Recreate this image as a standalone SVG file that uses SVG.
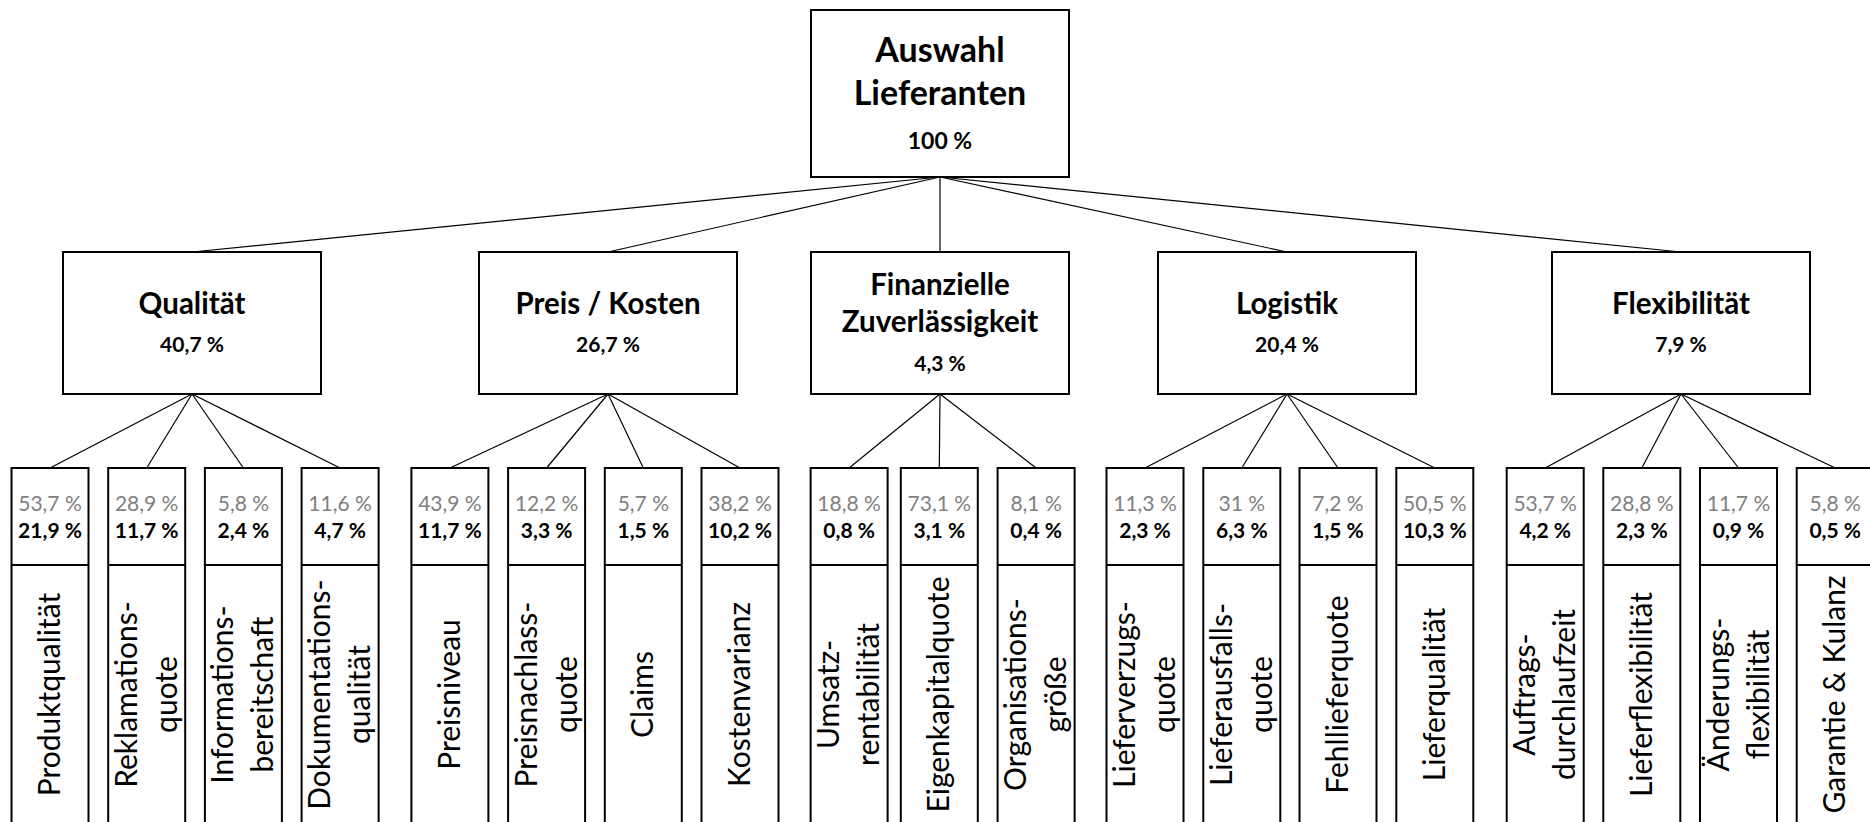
<svg xmlns="http://www.w3.org/2000/svg" width="1870" height="822" viewBox="0 0 1870 822">
  <style>
    .box { fill: #ffffff; stroke: #000000; stroke-width: 2; }
    .sep { stroke: #000000; stroke-width: 2; }
    .conn line { stroke: #000000; stroke-width: 1.2; }
    text { font-family: Lato, "Liberation Sans", sans-serif; text-anchor: middle; fill: #000000; }
    .h0 { font-size: 34px; font-weight: 700; }
    .h1 { font-size: 29.5px; font-weight: 700; }
    .pc { font-size: 21px; font-weight: 700; }
    .p0 { font-size: 23px; font-weight: 700; }
    .pg { font-size: 21px; font-weight: 400; fill: #808080; }
    .lb { font-size: 30px; font-weight: 400; }
  </style>

  <!-- connectors -->
  <g id="connectors" class="conn">
    <line x1="940" y1="177" x2="192" y2="252"/>
    <line x1="940" y1="177" x2="608" y2="252"/>
    <line x1="940" y1="177" x2="940" y2="252"/>
    <line x1="940" y1="177" x2="1287" y2="252"/>
    <line x1="940" y1="177" x2="1681" y2="252"/>

    <line x1="192" y1="394" x2="50" y2="468"/>
    <line x1="192" y1="394" x2="146.7" y2="468"/>
    <line x1="192" y1="394" x2="243.4" y2="468"/>
    <line x1="192" y1="394" x2="340.1" y2="468"/>

    <line x1="608" y1="394" x2="449.9" y2="468"/>
    <line x1="608" y1="394" x2="546.6" y2="468"/>
    <line x1="608" y1="394" x2="643.3" y2="468"/>
    <line x1="608" y1="394" x2="740" y2="468"/>

    <line x1="940" y1="394" x2="849.1" y2="468"/>
    <line x1="940" y1="394" x2="939.3" y2="468"/>
    <line x1="940" y1="394" x2="1036.1" y2="468"/>

    <line x1="1287" y1="394" x2="1145" y2="468"/>
    <line x1="1287" y1="394" x2="1241.8" y2="468"/>
    <line x1="1287" y1="394" x2="1338" y2="468"/>
    <line x1="1287" y1="394" x2="1434.8" y2="468"/>

    <line x1="1681" y1="394" x2="1545.2" y2="468"/>
    <line x1="1681" y1="394" x2="1641.8" y2="468"/>
    <line x1="1681" y1="394" x2="1738.5" y2="468"/>
    <line x1="1681" y1="394" x2="1835.2" y2="468"/>
  </g>

  <!-- root -->
  <g id="auswahl-lieferanten">
    <rect class="box" x="811" y="10" width="258" height="167"/>
    <text class="h0" x="940" y="62">Auswahl</text>
    <text class="h0" x="940" y="105">Lieferanten</text>
    <text class="p0" x="940" y="149">100 %</text>
  </g>

  <!-- criteria -->
  <g id="qualitaet">
    <rect class="box" x="63" y="252" width="258" height="142"/>
    <text class="h1" x="192" y="314">Qualität</text>
    <text class="pc" x="192" y="352">40,7 %</text>
  </g>
  <g id="preis-kosten">
    <rect class="box" x="479" y="252" width="258" height="142"/>
    <text class="h1" x="608" y="314">Preis / Kosten</text>
    <text class="pc" x="608" y="352">26,7 %</text>
  </g>
  <g id="finanzielle-zuverlaessigkeit">
    <rect class="box" x="811" y="252" width="258" height="142"/>
    <text class="h1" x="940" y="295">Finanzielle</text>
    <text class="h1" x="940" y="332">Zuverlässigkeit</text>
    <text class="pc" x="940" y="371">4,3 %</text>
  </g>
  <g id="logistik">
    <rect class="box" x="1158" y="252" width="258" height="142"/>
    <text class="h1" x="1287" y="314">Logistik</text>
    <text class="pc" x="1287" y="352">20,4 %</text>
  </g>
  <g id="flexibilitaet">
    <rect class="box" x="1552" y="252" width="258" height="142"/>
    <text class="h1" x="1681" y="314">Flexibilität</text>
    <text class="pc" x="1681" y="352">7,9 %</text>
  </g>

  <!-- sub-criteria: Qualität -->
  <g id="produktqualitaet">
    <rect class="box" x="11.5" y="468" width="77" height="370"/>
    <line class="sep" x1="11.5" y1="565" x2="88.5" y2="565"/>
    <text class="pg" x="50" y="511">53,7 %</text>
    <text class="pc" x="50" y="538">21,9 %</text>
    <text class="lb" transform="translate(50 694.5) rotate(-90)" y="10">Produktqualität</text>
  </g>
  <g id="reklamationsquote">
    <rect class="box" x="108.2" y="468" width="77" height="370"/>
    <line class="sep" x1="108.2" y1="565" x2="185.2" y2="565"/>
    <text class="pg" x="146.7" y="511">28,9 %</text>
    <text class="pc" x="146.7" y="538">11,7 %</text>
    <text class="lb" transform="translate(146.7 694.5) rotate(-90)"><tspan x="0" y="-10">Reklamations-</tspan><tspan x="0" y="30">quote</tspan></text>
  </g>
  <g id="informationsbereitschaft">
    <rect class="box" x="204.9" y="468" width="77" height="370"/>
    <line class="sep" x1="204.9" y1="565" x2="281.9" y2="565"/>
    <text class="pg" x="243.4" y="511">5,8 %</text>
    <text class="pc" x="243.4" y="538">2,4 %</text>
    <text class="lb" transform="translate(243.4 694.5) rotate(-90)"><tspan x="0" y="-10">Informations-</tspan><tspan x="0" y="30">bereitschaft</tspan></text>
  </g>
  <g id="dokumentationsqualitaet">
    <rect class="box" x="301.6" y="468" width="77" height="370"/>
    <line class="sep" x1="301.6" y1="565" x2="378.6" y2="565"/>
    <text class="pg" x="340.1" y="511">11,6 %</text>
    <text class="pc" x="340.1" y="538">4,7 %</text>
    <text class="lb" transform="translate(340.1 694.5) rotate(-90)"><tspan x="0" y="-10">Dokumentations-</tspan><tspan x="0" y="30">qualität</tspan></text>
  </g>

  <!-- sub-criteria: Preis / Kosten -->
  <g id="preisniveau">
    <rect class="box" x="411.4" y="468" width="77" height="370"/>
    <line class="sep" x1="411.4" y1="565" x2="488.4" y2="565"/>
    <text class="pg" x="449.9" y="511">43,9 %</text>
    <text class="pc" x="449.9" y="538">11,7 %</text>
    <text class="lb" transform="translate(449.9 694.5) rotate(-90)" y="10">Preisniveau</text>
  </g>
  <g id="preisnachlassquote">
    <rect class="box" x="508.1" y="468" width="77" height="370"/>
    <line class="sep" x1="508.1" y1="565" x2="585.1" y2="565"/>
    <text class="pg" x="546.6" y="511">12,2 %</text>
    <text class="pc" x="546.6" y="538">3,3 %</text>
    <text class="lb" transform="translate(546.6 694.5) rotate(-90)"><tspan x="0" y="-10">Preisnachlass-</tspan><tspan x="0" y="30">quote</tspan></text>
  </g>
  <g id="claims">
    <rect class="box" x="604.8" y="468" width="77" height="370"/>
    <line class="sep" x1="604.8" y1="565" x2="681.8" y2="565"/>
    <text class="pg" x="643.3" y="511">5,7 %</text>
    <text class="pc" x="643.3" y="538">1,5 %</text>
    <text class="lb" transform="translate(643.3 694.5) rotate(-90)" y="10">Claims</text>
  </g>
  <g id="kostenvarianz">
    <rect class="box" x="701.5" y="468" width="77" height="370"/>
    <line class="sep" x1="701.5" y1="565" x2="778.5" y2="565"/>
    <text class="pg" x="740" y="511">38,2 %</text>
    <text class="pc" x="740" y="538">10,2 %</text>
    <text class="lb" transform="translate(740 694.5) rotate(-90)" y="10">Kostenvarianz</text>
  </g>

  <!-- sub-criteria: Finanzielle Zuverlässigkeit -->
  <g id="umsatzrentabilitaet">
    <rect class="box" x="810.6" y="468" width="77" height="370"/>
    <line class="sep" x1="810.6" y1="565" x2="887.6" y2="565"/>
    <text class="pg" x="849.1" y="511">18,8 %</text>
    <text class="pc" x="849.1" y="538">0,8 %</text>
    <text class="lb" transform="translate(849.1 694.5) rotate(-90)"><tspan x="0" y="-10">Umsatz-</tspan><tspan x="0" y="30">rentabilität</tspan></text>
  </g>
  <g id="eigenkapitalquote">
    <rect class="box" x="900.8" y="468" width="77" height="370"/>
    <line class="sep" x1="900.8" y1="565" x2="977.8" y2="565"/>
    <text class="pg" x="939.3" y="511">73,1 %</text>
    <text class="pc" x="939.3" y="538">3,1 %</text>
    <text class="lb" transform="translate(939.3 694.5) rotate(-90)" y="10">Eigenkapitalquote</text>
  </g>
  <g id="organisationsgroesse">
    <rect class="box" x="997.6" y="468" width="77" height="370"/>
    <line class="sep" x1="997.6" y1="565" x2="1074.6" y2="565"/>
    <text class="pg" x="1036.1" y="511">8,1 %</text>
    <text class="pc" x="1036.1" y="538">0,4 %</text>
    <text class="lb" transform="translate(1036.1 694.5) rotate(-90)"><tspan x="0" y="-10">Organisations-</tspan><tspan x="0" y="30">größe</tspan></text>
  </g>

  <!-- sub-criteria: Logistik -->
  <g id="lieferverzugsquote">
    <rect class="box" x="1106.5" y="468" width="77" height="370"/>
    <line class="sep" x1="1106.5" y1="565" x2="1183.5" y2="565"/>
    <text class="pg" x="1145" y="511">11,3 %</text>
    <text class="pc" x="1145" y="538">2,3 %</text>
    <text class="lb" transform="translate(1145 694.5) rotate(-90)"><tspan x="0" y="-10">Lieferverzugs-</tspan><tspan x="0" y="30">quote</tspan></text>
  </g>
  <g id="lieferausfallsquote">
    <rect class="box" x="1203.3" y="468" width="77" height="370"/>
    <line class="sep" x1="1203.3" y1="565" x2="1280.3" y2="565"/>
    <text class="pg" x="1241.8" y="511">31 %</text>
    <text class="pc" x="1241.8" y="538">6,3 %</text>
    <text class="lb" transform="translate(1241.8 694.5) rotate(-90)"><tspan x="0" y="-10">Lieferausfalls-</tspan><tspan x="0" y="30">quote</tspan></text>
  </g>
  <g id="fehllieferquote">
    <rect class="box" x="1299.5" y="468" width="77" height="370"/>
    <line class="sep" x1="1299.5" y1="565" x2="1376.5" y2="565"/>
    <text class="pg" x="1338" y="511">7,2 %</text>
    <text class="pc" x="1338" y="538">1,5 %</text>
    <text class="lb" transform="translate(1338 694.5) rotate(-90)" y="10">Fehllieferquote</text>
  </g>
  <g id="lieferqualitaet">
    <rect class="box" x="1396.3" y="468" width="77" height="370"/>
    <line class="sep" x1="1396.3" y1="565" x2="1473.3" y2="565"/>
    <text class="pg" x="1434.8" y="511">50,5 %</text>
    <text class="pc" x="1434.8" y="538">10,3 %</text>
    <text class="lb" transform="translate(1434.8 694.5) rotate(-90)" y="10">Lieferqualität</text>
  </g>

  <!-- sub-criteria: Flexibilität -->
  <g id="auftragsdurchlaufzeit">
    <rect class="box" x="1506.7" y="468" width="77" height="370"/>
    <line class="sep" x1="1506.7" y1="565" x2="1583.7" y2="565"/>
    <text class="pg" x="1545.2" y="511">53,7 %</text>
    <text class="pc" x="1545.2" y="538">4,2 %</text>
    <text class="lb" transform="translate(1545.2 694.5) rotate(-90)"><tspan x="0" y="-10">Auftrags-</tspan><tspan x="0" y="30">durchlaufzeit</tspan></text>
  </g>
  <g id="lieferflexibilitaet">
    <rect class="box" x="1603.3" y="468" width="77" height="370"/>
    <line class="sep" x1="1603.3" y1="565" x2="1680.3" y2="565"/>
    <text class="pg" x="1641.8" y="511">28,8 %</text>
    <text class="pc" x="1641.8" y="538">2,3 %</text>
    <text class="lb" transform="translate(1641.8 694.5) rotate(-90)" y="10">Lieferflexibilität</text>
  </g>
  <g id="aenderungsflexibilitaet">
    <rect class="box" x="1700" y="468" width="77" height="370"/>
    <line class="sep" x1="1700" y1="565" x2="1777" y2="565"/>
    <text class="pg" x="1738.5" y="511">11,7 %</text>
    <text class="pc" x="1738.5" y="538">0,9 %</text>
    <text class="lb" transform="translate(1738.5 694.5) rotate(-90)"><tspan x="0" y="-10">Änderungs-</tspan><tspan x="0" y="30">flexibilität</tspan></text>
  </g>
  <g id="garantie-kulanz">
    <rect class="box" x="1796.7" y="468" width="77" height="370"/>
    <line class="sep" x1="1796.7" y1="565" x2="1873.7" y2="565"/>
    <text class="pg" x="1835.2" y="511">5,8 %</text>
    <text class="pc" x="1835.2" y="538">0,5 %</text>
    <text class="lb" transform="translate(1835.2 694.5) rotate(-90)" y="10">Garantie &amp; Kulanz</text>
  </g>
</svg>
